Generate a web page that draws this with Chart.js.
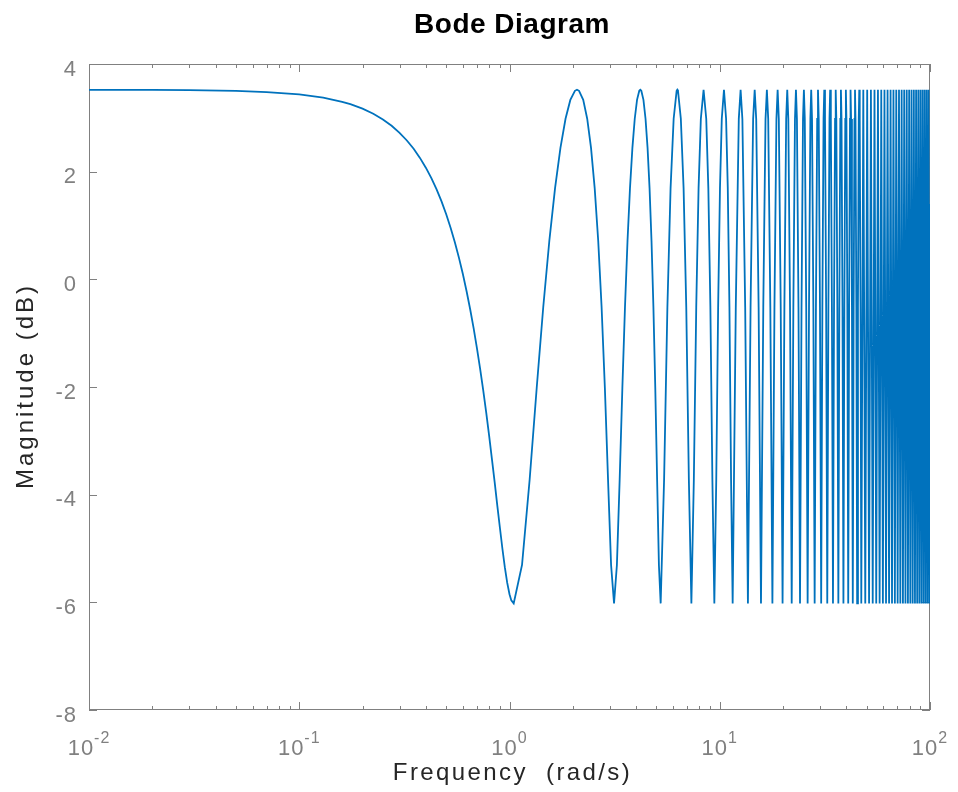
<!DOCTYPE html>
<html>
<head>
<meta charset="utf-8">
<script src="https://cdn.jsdelivr.net/npm/chart.js@4.4.1/dist/chart.umd.min.js"></script>
<style>
  html, body { margin:0; padding:0; background:#fff; }
  #wrap { width:958px; height:792px; }
</style>
</head>
<body>
<div id="wrap"><canvas id="bode" width="958" height="792"></canvas></div>
<script>
// ---------- data ----------
// flat low-frequency part and the first wide dip
const lowFreq = [0.01, 0.02, 0.03, 0.05, 0.07, 0.1, 0.13, 0.16, 0.175, 0.2, 0.225, 0.25, 0.275, 0.3,
  0.325, 0.35, 0.375, 0.4, 0.425, 0.45, 0.475, 0.5, 0.525, 0.55, 0.575, 0.6, 0.625, 0.65, 0.675,
  0.7, 0.725, 0.75, 0.775, 0.8, 0.825, 0.85, 0.875, 0.9, 0.925, 0.95, 0.975, 1.0, 1.02, 1.047];
const lowDb = [3.52, 3.518, 3.514, 3.5, 3.479, 3.435, 3.374, 3.298, 3.254, 3.171, 3.077, 2.97, 2.852, 2.722,
  2.579, 2.425, 2.256, 2.074, 1.88, 1.67, 1.447, 1.208, 0.955, 0.685, 0.399, 0.098, -0.221, -0.556, -0.907,
  -1.278, -1.664, -2.063, -2.478, -2.902, -3.339, -3.767, -4.202, -4.61, -5.0, -5.347, -5.634, -5.85, -5.964, -6.02];

// the wide lobes between 1 and 11.5 rad/s
const lobeFreq = [
  1.147, 1.247, 1.347, 1.447, 1.547, 1.647, 1.747, 1.847, 1.947, 2.047, 2.094,
  2.142, 2.242, 2.342, 2.442, 2.542, 2.642, 2.742, 2.842, 2.942, 3.042, 3.142,
  3.242, 3.342, 3.442, 3.542, 3.642, 3.742, 3.842, 3.942, 4.042, 4.142, 4.189,
  4.236, 4.336, 4.436, 4.536, 4.636, 4.736, 4.836, 4.936, 5.036, 5.136, 5.236,
  5.436, 5.636, 5.836, 6.036, 6.236, 6.283, 6.330, 6.530, 6.730, 6.930, 7.130, 7.330,
  7.530, 7.730, 7.930, 8.130, 8.377, 8.625, 8.825, 9.025, 9.225, 9.425,
  9.625, 9.825, 10.025, 10.225, 10.472, 10.719, 10.919, 11.119, 11.319, 11.519
];
const lobeDb = [
  -5.306, -3.719, -2.018, -0.518, 0.716, 1.694, 2.442, 2.983, 3.333, 3.502, 3.522,
  3.502, 3.333, 2.983, 2.442, 1.694, 0.716, -0.518, -2.018, -3.719, -5.306, -6.02,
  -5.306, -3.719, -2.018, -0.518, 0.716, 1.694, 2.442, 2.983, 3.333, 3.502, 3.522,
  3.502, 3.333, 2.983, 2.442, 1.694, 0.716, -0.518, -2.018, -3.719, -5.306, -6.02,
  -3.719, -0.518, 1.694, 2.983, 3.502, 3.522, 3.502, 2.983, 1.694, -0.518, -3.719, -6.02,
  -3.719, -0.518, 1.694, 2.983, 3.522, 2.983, 1.694, -0.518, -3.719, -6.02,
  -3.719, -0.518, 1.694, 2.983, 3.522, 2.983, 1.694, -0.518, -3.719, -6.02
];

// narrower lobes 11.5 .. 47 rad/s: one row per lobe, levels in midDb
const midRows = [
  [11.919, 12.319, 12.566, 12.813, 13.213, 13.614],
  [14.014, 14.414, 14.661, 14.908, 15.308, 15.708],
  [16.108, 16.508, 16.755, 17.002, 17.402, 17.802],
  [18.202, 18.602, 18.850, 19.096, 19.496, 19.897],
  [20.297, 20.697, 20.944, 21.191, 21.591, 21.991],
  [22.391, 22.791, 23.038, 23.285, 23.685, 24.086],
  [24.486, 24.886, 25.133, 25.380, 25.780, 26.180],
  [26.580, 26.980, 27.227, 27.474, 27.874, 28.274],
  [28.674, 29.074, 29.322, 29.568, 29.968, 30.369],
  [30.769, 31.169, 31.416, 31.663, 32.063, 32.463],
  [32.863, 33.263, 33.510, 33.757, 34.157, 34.558],
  [34.958, 35.358, 35.605, 35.852, 36.252, 36.652],
  [37.052, 37.452, 37.699, 37.946, 38.346, 38.746],
  [39.146, 39.546, 39.794, 40.040, 40.440, 40.841],
  [41.241, 41.641, 41.888, 42.135, 42.535, 42.935],
  [43.335, 43.735, 43.982, 44.229, 44.629, 45.030],
  [45.430, 45.830, 46.077, 46.324, 46.724, 47.124]
];
const midDb = [-0.52, 2.98, 3.52, 2.98, -0.52, -6.02];

// dense part 47 .. 100 rad/s: alternating peaks and notches
const peakFreq = [48.171, 50.265, 52.360, 54.454, 56.549, 58.643, 60.737, 62.832, 64.926, 67.021,
  69.115, 71.209, 73.304, 75.398, 77.493, 79.587, 81.681, 83.776, 85.870, 87.965,
  90.059, 92.153, 94.248, 96.342, 98.437];
const notchFreq = [49.218, 51.313, 53.407, 55.501, 57.596, 59.690, 61.785, 63.879, 65.973, 68.068,
  70.162, 72.257, 74.351, 76.445, 78.540, 80.634, 82.729, 84.823, 86.917, 89.012,
  91.106, 93.201, 95.295, 97.389, 99.484];
const peakDb = 3.52;
const notchDb = -6.02;
const endFreq = 100;
const endDb = 1.4;

// axes
const xDecades = [-2, -1, 0, 1, 2];
const xMinorMult = [2, 3, 4, 5, 6, 7, 8, 9];
const yTicks = [-8, -6, -4, -2, 0, 2, 4];

// ---------- build series ----------
const pts = [];
lowFreq.forEach((f, i) => pts.push({ x: f, y: lowDb[i] }));
lobeFreq.forEach((f, i) => pts.push({ x: f, y: lobeDb[i] }));
midRows.forEach(row => row.forEach((f, i) => pts.push({ x: f, y: midDb[i] })));
peakFreq.forEach((f, i) => {
  pts.push({ x: f, y: peakDb });
  pts.push({ x: notchFreq[i], y: notchDb });
});
pts.push({ x: endFreq, y: endDb });

// ---------- look ----------
const FONT = "'Liberation Sans', Arial, Helvetica, sans-serif";
const AXIS_GRAY = "#808080";
const TEXT_DARK = "#262626";
const LINE_BLUE = "#0072BD";

const frame = {
  id: "matlabFrame",
  beforeDatasetsDraw(chart) {
    const { ctx, chartArea: a, scales: { x, y } } = chart;
    ctx.save();
    ctx.strokeStyle = AXIS_GRAY;
    ctx.lineWidth = 1;
    ctx.strokeRect(a.left + 0.5, a.top + 0.5, a.right - a.left - 1, a.bottom - a.top - 1);
    ctx.beginPath();
    xDecades.forEach(d => {
      const px = Math.round(x.getPixelForValue(Math.pow(10, d))) + 0.5;
      ctx.moveTo(px, a.bottom); ctx.lineTo(px, a.bottom - 8);
      ctx.moveTo(px, a.top); ctx.lineTo(px, a.top + 8);
      if (d < 2) {
        xMinorMult.forEach(m => {
          const mx = Math.round(x.getPixelForValue(m * Math.pow(10, d))) + 0.5;
          ctx.moveTo(mx, a.bottom); ctx.lineTo(mx, a.bottom - 4);
          ctx.moveTo(mx, a.top); ctx.lineTo(mx, a.top + 4);
        });
      }
    });
    yTicks.forEach(v => {
      const py = Math.round(y.getPixelForValue(v)) + 0.5;
      ctx.moveTo(a.left, py); ctx.lineTo(a.left + 8, py);
      ctx.moveTo(a.right, py); ctx.lineTo(a.right - 8, py);
    });
    ctx.stroke();
    ctx.restore();
  },
  afterDraw(chart) {
    const { ctx, chartArea: a, scales: { x, y } } = chart;
    ctx.save();
    ctx.fillStyle = AXIS_GRAY;
    ctx.letterSpacing = "1px";
    // y tick labels
    ctx.font = "22px " + FONT;
    ctx.textAlign = "right";
    ctx.textBaseline = "alphabetic";
    yTicks.forEach(v => {
      ctx.fillText(String(v), a.left - 12, y.getPixelForValue(v) + 11.5);
    });
    // x tick labels 10^n
    ctx.textAlign = "left";
    xDecades.forEach(d => {
      const px = x.getPixelForValue(Math.pow(10, d));
      ctx.font = "22px " + FONT;
      const wBase = ctx.measureText("10").width;
      ctx.font = "16px " + FONT;
      const wExp = ctx.measureText(String(d)).width;
      const left = px - (wBase + wExp) / 2;
      ctx.font = "22px " + FONT;
      ctx.fillText("10", left, 755);
      ctx.font = "16px " + FONT;
      ctx.fillText(String(d), left + wBase, 743);
    });
    // axis titles
    ctx.fillStyle = TEXT_DARK;
    ctx.font = "24px " + FONT;
    ctx.textAlign = "center";
    ctx.letterSpacing = "2.4px";
    ctx.fillText("Frequency  (rad/s)", (a.left + a.right) / 2 + 3, 780);
    ctx.save();
    ctx.letterSpacing = "3px";
    ctx.translate(33, (a.top + a.bottom) / 2 - 1);
    ctx.rotate(-Math.PI / 2);
    ctx.fillText("Magnitude (dB)", 0, 0);
    ctx.restore();
    // title
    ctx.fillStyle = "#000";
    ctx.letterSpacing = "0.5px";
    ctx.font = "bold 28px " + FONT;
    ctx.fillText("Bode Diagram", 512, 33);
    ctx.restore();
  }
};

new Chart(document.getElementById("bode"), {
  type: "line",
  data: {
    datasets: [{
      data: pts,
      borderColor: LINE_BLUE,
      borderWidth: 1.8,
      pointRadius: 0,
      tension: 0,
      fill: false
    }]
  },
  options: {
    responsive: false,
    animation: false,
    layout: { padding: { left: 89, right: 28, top: 64, bottom: 82 } },
    plugins: { legend: { display: false }, title: { display: false }, tooltip: { enabled: false } },
    scales: {
      x: { type: "logarithmic", min: 0.01, max: 100, display: false },
      y: { type: "linear", min: -8, max: 4, display: false }
    }
  },
  plugins: [frame]
});
</script>
</body>
</html>
